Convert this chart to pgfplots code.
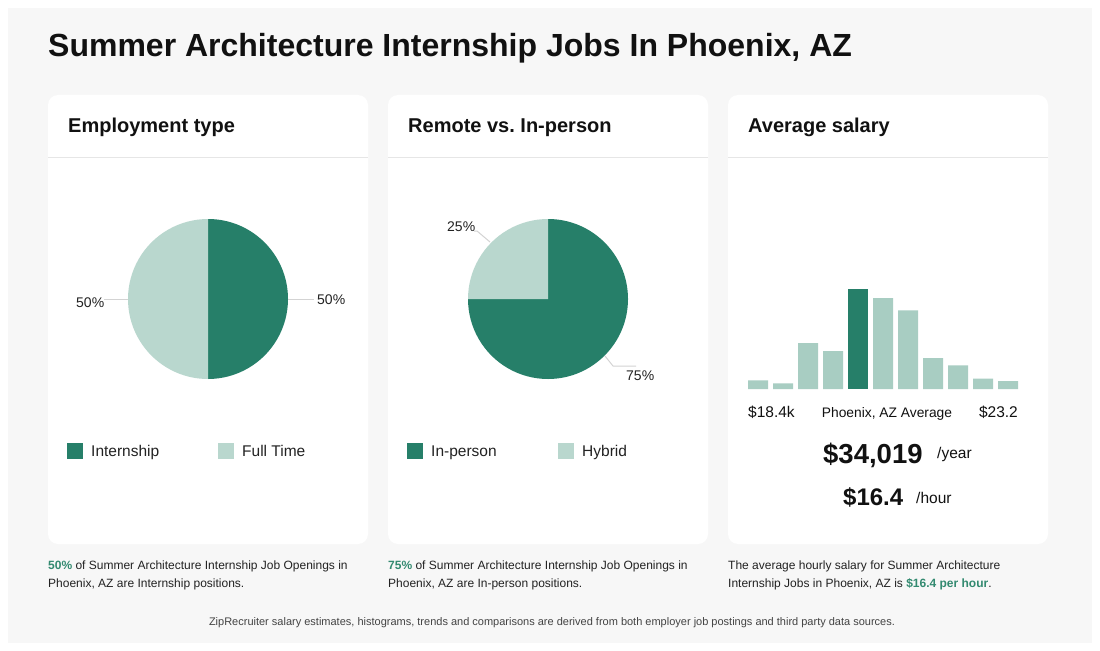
\documentclass[border=0pt]{standalone}
\usepackage{pgfplots}
\pgfplotsset{compat=1.18}
\usepackage{fontspec}
\setmainfont{Liberation Sans}
\frenchspacing

\definecolor{dkgreen}{HTML}{267F69}
\definecolor{ltpie}{HTML}{B9D7CE}
\definecolor{lthist}{HTML}{A8CDC2}
\definecolor{panel}{HTML}{F7F7F7}
\definecolor{txtgreen}{HTML}{338A70}
\definecolor{leader}{HTML}{D3D3D3}
\definecolor{rule}{HTML}{E6E6E6}
\definecolor{ink}{HTML}{111111}
\definecolor{body}{HTML}{222222}

\newcommand\fs[1]{\fontsize{#1bp}{#1bp}\selectfont}
% one pie slice: start angle, share in percent, colour
\newcommand\slice[3]{\fill[#3] (axis cs:0,0) -- ++(#1:80bp)
  arc[start angle=#1, delta angle=-3.6*#2, radius=80bp] -- cycle;}

\pgfplotsset{pie/.style={hide axis, x=1bp, y=1bp, xmin=-100, xmax=100,
  ymin=-100, ymax=100, anchor=center, clip=false}}

\begin{document}
\begin{tikzpicture}
\begin{scope}[x=1bp, y=-1bp]
  \useasboundingbox (0,0) rectangle (1100,651);
  \fill[white] (0,0) rectangle (1100,651);
  \fill[panel] (8,8) rectangle (1092,643);
  \foreach \cx in {48,388,728}{
    \fill[white, rounded corners=10bp] (\cx,95) rectangle (\cx+320,544);
    \draw[rule, line width=1bp] (\cx,158) -- (\cx+320,158);
  }
  \node[anchor=base west, inner sep=0, text=ink, font=\fs{32}\bfseries]
    at (48,57) {Summer Architecture Internship Jobs In Phoenix, AZ};
  \node[anchor=base west, inner sep=0, text=ink, font=\fs{20}\bfseries]
    at (68,133) {Employment type};
  \node[anchor=base west, inner sep=0, text=ink, font=\fs{20}\bfseries]
    at (408,133) {Remote vs. In-person};
  \node[anchor=base west, inner sep=0, text=ink, font=\fs{20}\bfseries]
    at (748,133) {Average salary};

  % pie labels and leader lines
  \draw[leader, line width=1bp] (104,299) -- (128,299);
  \draw[leader, line width=1bp] (288,299) -- (314,299);
  \draw[leader, line width=1bp] (490,242) -- (477,231) -- (474,231);
  \draw[leader, line width=1bp] (605,356) -- (613,366) -- (636,366);
  \node[anchor=base west, inner sep=0, text=body, font=\fs{14}] at (76,307) {50\%};
  \node[anchor=base west, inner sep=0, text=body, font=\fs{14}] at (317,304) {50\%};
  \node[anchor=base west, inner sep=0, text=body, font=\fs{14}] at (447,231.5) {25\%};
  \node[anchor=base west, inner sep=0, text=body, font=\fs{14}] at (626,380) {75\%};

  % legends
  \fill[dkgreen] (67,443) rectangle (83,459);
  \fill[ltpie] (218,443) rectangle (234,459);
  \fill[dkgreen] (407,443) rectangle (423,459);
  \fill[ltpie] (558,443) rectangle (574,459);
  \node[anchor=base west, inner sep=0, text=body, font=\fs{15.5}] at (91,456.5) {Internship};
  \node[anchor=base west, inner sep=0, text=body, font=\fs{15.5}] at (242,456.5) {Full Time};
  \node[anchor=base west, inner sep=0, text=body, font=\fs{15.5}] at (431,456.5) {In-person};
  \node[anchor=base west, inner sep=0, text=body, font=\fs{15.5}] at (582,456.5) {Hybrid};

  % salary card
  \node[anchor=base west, inner sep=0, text=ink, font=\fs{15.5}] at (748,417) {\$18.4k};
  \node[anchor=base, inner sep=0, text=ink, font=\fs{13.8}] at (887,417) {Phoenix, AZ Average};
  \node[anchor=base east, inner sep=0, text=ink, font=\fs{15.5}] at (1018,417) {\$23.2};
  \node[anchor=base west, inner sep=0, text=ink, font=\fs{27.5}\bfseries] at (823,463) {\$34,019};
  \node[anchor=base west, inner sep=0, text=ink, font=\fs{15.5}] at (937,458) {/year};
  \node[anchor=base west, inner sep=0, text=ink, font=\fs{24}\bfseries] at (843,505) {\$16.4};
  \node[anchor=base west, inner sep=0, text=ink, font=\fs{15.5}] at (916,503) {/hour};

  % notes under the cards
  \node[anchor=base west, inner sep=0, text=body, font=\fs{12}] at (48,569.5)
    {\textcolor{txtgreen}{\bfseries 50\%} of Summer Architecture Internship Job Openings in};
  \node[anchor=base west, inner sep=0, text=body, font=\fs{12}] at (48,587.5)
    {Phoenix, AZ are Internship positions.};
  \node[anchor=base west, inner sep=0, text=body, font=\fs{12}] at (388,569.5)
    {\textcolor{txtgreen}{\bfseries 75\%} of Summer Architecture Internship Job Openings in};
  \node[anchor=base west, inner sep=0, text=body, font=\fs{12}] at (388,587.5)
    {Phoenix, AZ are In-person positions.};
  \node[anchor=base west, inner sep=0, text=body, font=\fs{12}] at (728,569.5)
    {The average hourly salary for Summer Architecture};
  \node[anchor=base west, inner sep=0, text=body, font=\fs{12}] at (728,587.5)
    {Internship Jobs in Phoenix, AZ is \textcolor{txtgreen}{\bfseries \$16.4 per hour}.};
  \node[anchor=base, inner sep=0, text=body!85!white, font=\fs{11}] at (552,625)
    {ZipRecruiter salary estimates, histograms, trends and comparisons are derived from both employer job postings and third party data sources.};
\end{scope}

% employment type pie
\begin{axis}[pie, at={(208bp,-299bp)}]
  \slice{90}{50}{dkgreen}
  \slice{-90}{50}{ltpie}
\end{axis}

% remote vs in-person pie
\begin{axis}[pie, at={(548bp,-299bp)}]
  \slice{90}{75}{dkgreen}
  \slice{-180}{25}{ltpie}
\end{axis}

% salary histogram
\begin{axis}[hide axis, ybar, bar width=20bp, bar shift=0pt,
  x=25bp, y=1bp, xmin=-0.4, xmax=10.4, ymin=0, ymax=100,
  anchor=south west, at={(748bp,-389bp)}, clip=false]
  \addplot[fill=lthist, draw=none] coordinates
    {(0,8.7) (1,5.7) (2,46) (3,38) (5,91) (6,78.7) (7,31) (8,23.7) (9,10.3) (10,8)};
  \addplot[fill=dkgreen, draw=none] coordinates {(4,99.7)};
\end{axis}
\end{tikzpicture}
\end{document}
